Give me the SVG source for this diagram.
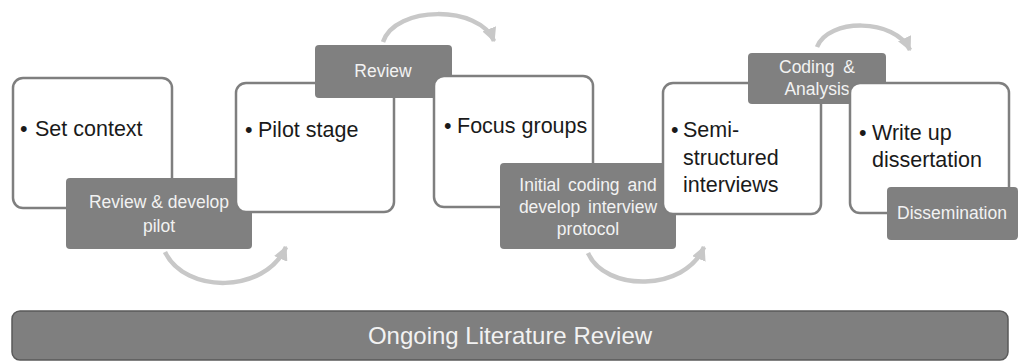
<svg xmlns="http://www.w3.org/2000/svg" width="1020" height="363" viewBox="0 0 1020 363">
<style>
.box{fill:#fff;stroke:#7f7f7f;stroke-width:2.5}
.lab{fill:#808080}
.bt{font-family:"Liberation Sans",Arial,sans-serif;font-size:21.5px;fill:#1a1a1a}
.lt{font-family:"Liberation Sans",Arial,sans-serif;font-size:17.5px;fill:#f2f2f2;text-anchor:middle}
.arr{fill:none;stroke:#c8c8c8;stroke-width:4.5;marker-end:url(#ah)}
</style>
<defs>
<marker id="ah" viewBox="0 0 10 10" refX="9" refY="5" markerWidth="3.2" markerHeight="3.2" orient="auto" markerUnits="strokeWidth">
<path d="M0,0 L10,5 L0,10 z" fill="#c8c8c8"/>
</marker>
</defs>
<g id="connectors">
<path class="arr" d="M165,252 C185,294 265,294 286,247"/>
<path class="arr" d="M383,42 C395,5 480,5 494,41"/>
<path class="arr" d="M588,253 C605,292 685,292 704,247"/>
<path class="arr" d="M817,47 C828,18 895,18 910,50"/>
</g>
<g id="n1">
<rect class="box" x="13" y="78" width="159" height="130" rx="10"/>
<text class="bt" x="20" y="136">•</text>
<text class="bt" x="35" y="136">Set context</text>
</g>
<g id="l1">
<rect class="lab" x="66" y="178" width="186" height="71" rx="4"/>
<text class="lt" x="159" y="208">Review &amp; develop</text>
<text class="lt" x="159" y="232">pilot</text>
</g>
<g id="n2">
<rect class="box" x="236" y="83" width="158" height="129" rx="10"/>
<text class="bt" x="245" y="137">•</text>
<text class="bt" x="258" y="137">Pilot stage</text>
</g>
<g id="l2">
<rect class="lab" x="315" y="45" width="137" height="53" rx="4"/>
<text class="lt" x="383" y="77">Review</text>
</g>
<g id="n3">
<rect class="box" x="434" y="76" width="159" height="131" rx="10"/>
<text class="bt" x="444" y="133">•</text>
<text class="bt" x="457" y="133">Focus groups</text>
</g>
<g id="l3">
<rect class="lab" x="500" y="163" width="176" height="86" rx="4"/>
<text class="lt" x="588" y="191" word-spacing="3">Initial coding and</text>
<text class="lt" x="588" y="213" word-spacing="3">develop interview</text>
<text class="lt" x="588" y="235">protocol</text>
</g>
<g id="n4">
<rect class="box" x="663" y="83" width="158" height="131" rx="10"/>
<text class="bt" x="671" y="137">•</text>
<text class="bt" x="683" y="137">Semi-</text>
<text class="bt" x="683" y="165">structured</text>
<text class="bt" x="683" y="192">interviews</text>
</g>
<g id="l4">
<rect class="lab" x="748" y="53" width="138" height="51" rx="4"/>
<text class="lt" x="817" y="73" word-spacing="4">Coding &amp;</text>
<text class="lt" x="817" y="95">Analysis</text>
</g>
<g id="n5">
<rect class="box" x="850" y="83" width="159" height="130" rx="10"/>
<text class="bt" x="859" y="140">•</text>
<text class="bt" x="872" y="140">Write up</text>
<text class="bt" x="872" y="167">dissertation</text>
</g>
<g id="l5">
<rect class="lab" x="887" y="187" width="131" height="53" rx="4"/>
<text class="lt" x="952" y="219">Dissemination</text>
</g>
<g id="bar">
<rect x="12" y="311" width="996" height="49" rx="8" fill="#7f7f7f" stroke="#5a5a5a" stroke-width="1.5"/>
<text x="510" y="344" font-family="'Liberation Sans',Arial,sans-serif" font-size="24" fill="#f2f2f2" text-anchor="middle">Ongoing Literature Review</text>
</g>
</svg>
